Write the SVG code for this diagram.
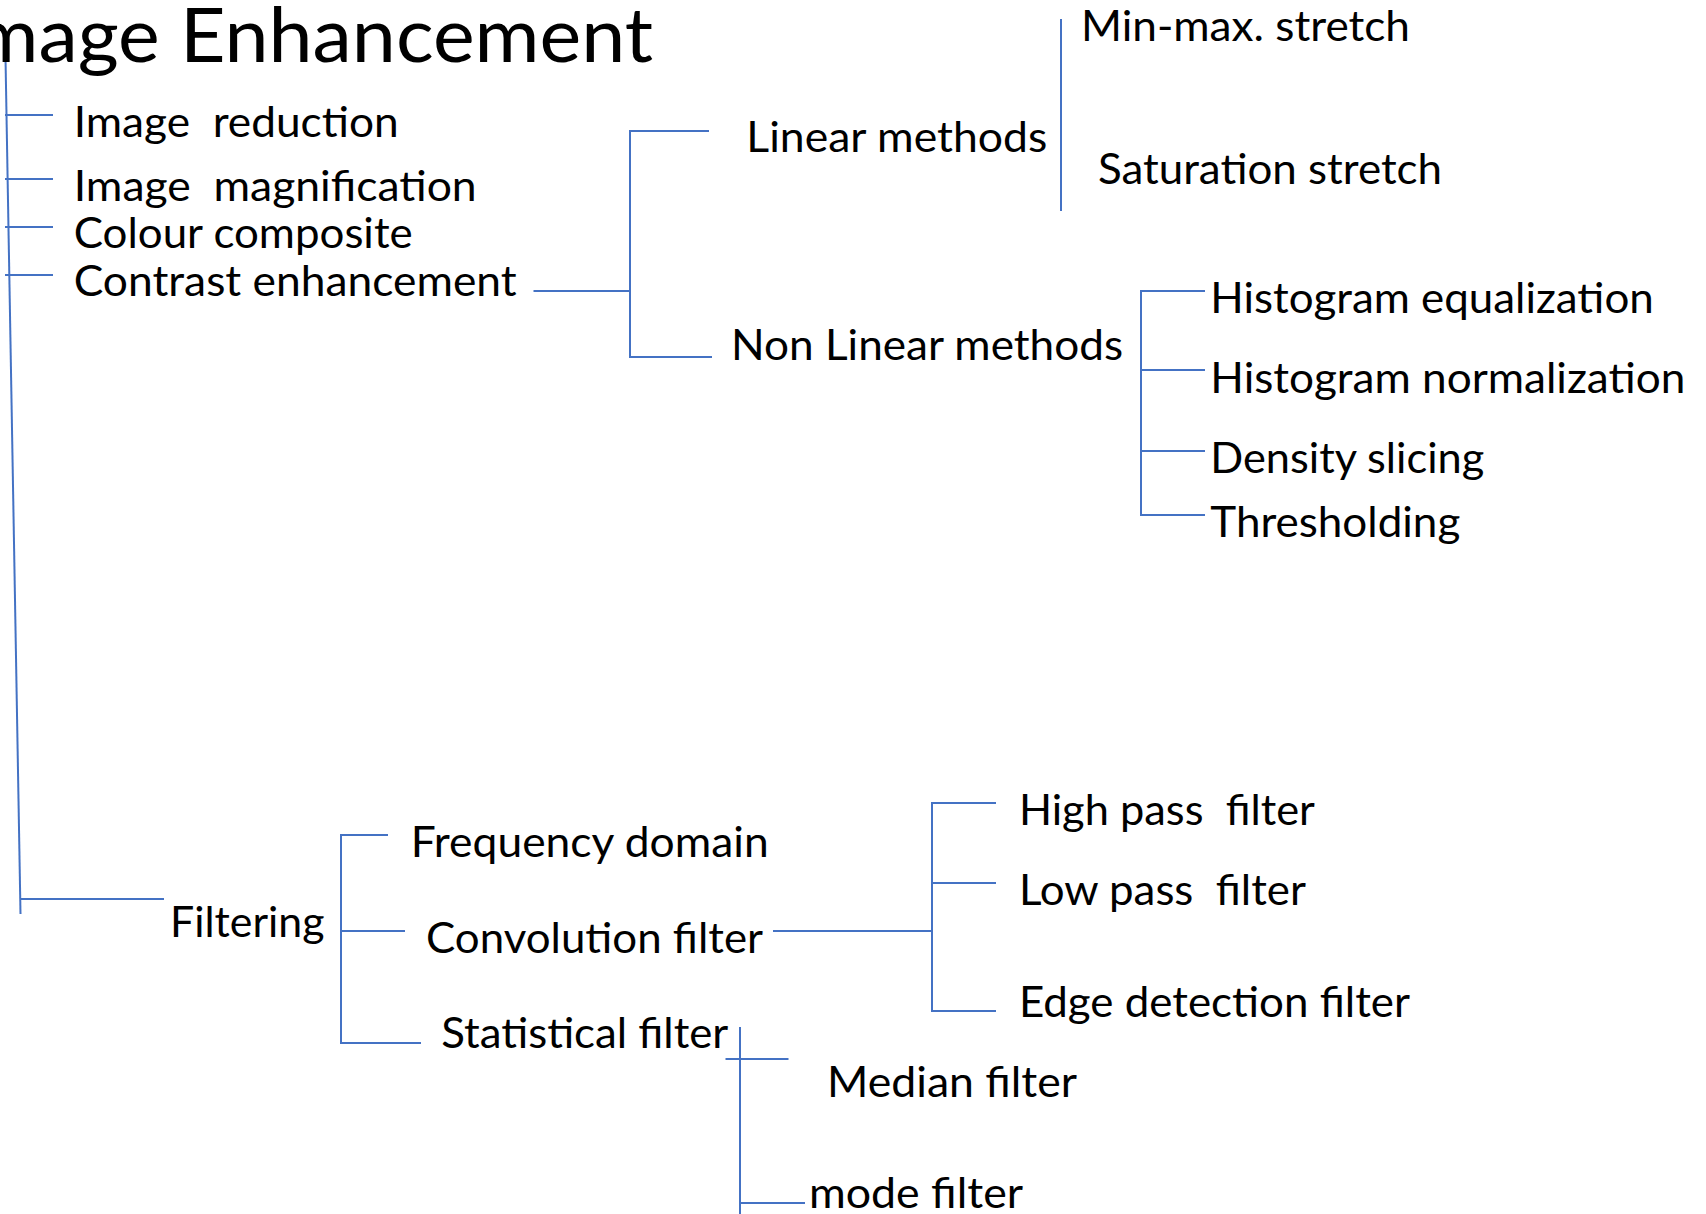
<svg xmlns="http://www.w3.org/2000/svg" width="1706" height="1214" viewBox="0 0 1706 1214">
<style>
text{font-family:Lato,"Open Sans","Liberation Sans",sans-serif;fill:#000;font-size:42.3px}
.t{font-size:75px}
.c line,.c polyline{stroke:#4472C4;stroke-width:2;fill:none}
</style>
<rect width="1706" height="1214" fill="#fff"/>
<g class="c" id="connectors">
<line x1="5.4" y1="52" x2="20.5" y2="914"/>
<line x1="5" y1="115" x2="53" y2="115"/>
<line x1="5" y1="179" x2="53" y2="179"/>
<line x1="5" y1="227" x2="53" y2="227"/>
<line x1="5" y1="275" x2="53" y2="275"/>
<line x1="533.5" y1="291" x2="630" y2="291"/>
<polyline points="709,131 630,131 630,357 712,357"/>
<line x1="1061" y1="19" x2="1061" y2="211"/>
<polyline points="1205,291 1141,291 1141,515 1205,515"/>
<line x1="1141" y1="370" x2="1205" y2="370"/>
<line x1="1141" y1="451" x2="1205" y2="451"/>
<line x1="20.5" y1="899" x2="164" y2="899"/>
<polyline points="388,835 341,835 341,1043 421,1043"/>
<line x1="341" y1="931" x2="405" y2="931"/>
<line x1="773" y1="931" x2="932" y2="931"/>
<polyline points="996,803 932,803 932,1011 996,1011"/>
<line x1="932" y1="883" x2="996" y2="883"/>
<line x1="740" y1="1027" x2="740" y2="1214"/>
<line x1="725.5" y1="1059" x2="788.5" y2="1059"/>
<line x1="740" y1="1203" x2="805" y2="1203"/>
</g>
<g id="title"><text class="t" x="-48" y="62" textLength="701" lengthAdjust="spacingAndGlyphs">Image Enhancement</text></g>
<g id="image-reduction"><text xml:space="preserve" x="73.7" y="136.7" textLength="325" lengthAdjust="spacingAndGlyphs">Image  reduction</text></g>
<g id="image-magnification"><text xml:space="preserve" x="73.7" y="201" textLength="403" lengthAdjust="spacingAndGlyphs">Image  magnification</text></g>
<g id="colour-composite"><text x="73.7" y="248.3" textLength="339" lengthAdjust="spacingAndGlyphs">Colour composite</text></g>
<g id="contrast-enhancement"><text x="73.7" y="296" textLength="443" lengthAdjust="spacingAndGlyphs">Contrast enhancement</text></g>
<g id="linear-methods"><text x="746.3" y="152.3" textLength="301" lengthAdjust="spacingAndGlyphs">Linear methods</text></g>
<g id="non-linear-methods"><text x="731" y="360" textLength="392" lengthAdjust="spacingAndGlyphs">Non Linear methods</text></g>
<g id="min-max-stretch"><text x="1081" y="40.7" textLength="329" lengthAdjust="spacingAndGlyphs">Min-max. stretch</text></g>
<g id="saturation-stretch"><text x="1098" y="184.3" textLength="344" lengthAdjust="spacingAndGlyphs">Saturation stretch</text></g>
<g id="histogram-equalization"><text x="1210.3" y="312.7" textLength="443.5" lengthAdjust="spacingAndGlyphs">Histogram equalization</text></g>
<g id="histogram-normalization"><text x="1210.3" y="393.3" textLength="475" lengthAdjust="spacingAndGlyphs">Histogram normalization</text></g>
<g id="density-slicing"><text x="1210.3" y="473.3" textLength="274" lengthAdjust="spacingAndGlyphs">Density slicing</text></g>
<g id="thresholding"><text x="1210.3" y="537.3" textLength="250" lengthAdjust="spacingAndGlyphs">Thresholding</text></g>
<g id="filtering"><text x="170" y="937.3" textLength="154.5" lengthAdjust="spacingAndGlyphs">Filtering</text></g>
<g id="frequency-domain"><text x="410.7" y="857.3" textLength="358" lengthAdjust="spacingAndGlyphs">Frequency domain</text></g>
<g id="convolution-filter"><text x="426" y="952.7" textLength="337" lengthAdjust="spacingAndGlyphs">Convolution filter</text></g>
<g id="statistical-filter"><text x="441.3" y="1048.3" textLength="287" lengthAdjust="spacingAndGlyphs">Statistical filter</text></g>
<g id="high-pass-filter"><text xml:space="preserve" x="1018.9" y="825" textLength="296" lengthAdjust="spacingAndGlyphs">High pass  filter</text></g>
<g id="low-pass-filter"><text xml:space="preserve" x="1018.9" y="905" textLength="287" lengthAdjust="spacingAndGlyphs">Low pass  filter</text></g>
<g id="edge-detection-filter"><text x="1018.9" y="1016.7" textLength="391" lengthAdjust="spacingAndGlyphs">Edge detection filter</text></g>
<g id="median-filter"><text x="827" y="1096.7" textLength="250" lengthAdjust="spacingAndGlyphs">Median filter</text></g>
<g id="mode-filter"><text x="809" y="1208" textLength="214" lengthAdjust="spacingAndGlyphs">mode filter</text></g>
</svg>
